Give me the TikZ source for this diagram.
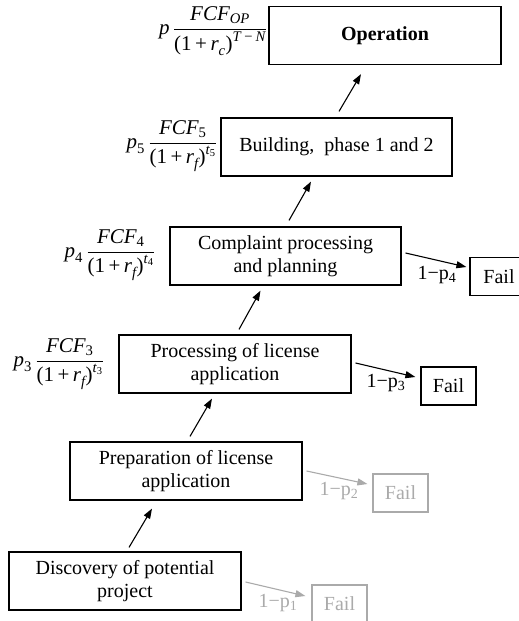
\documentclass[tikz,border=0pt]{standalone}
\usepackage{amsmath}
\usepackage{fontspec}
\setmainfont{Liberation Serif}
\usetikzlibrary{arrows.meta,calc}
\definecolor{faded}{RGB}{170,170,170}
\begin{document}
\begin{tikzpicture}[x=1pt,y=-1pt,
  box/.style={draw,line width=1.2pt,minimum width=232pt,minimum height=58pt,align=center,inner sep=2pt,font=\fontsize{20}{23}\selectfont},
  failbox/.style={draw,line width=1.2pt,minimum width=55pt,minimum height=38pt,inner sep=0pt,font=\fontsize{20}{23}\selectfont},
  arr/.style={line width=1.1pt,-{Triangle[length=10pt,width=7pt]}},
  plab/.style={font=\fontsize{20}{23}\selectfont,inner sep=0pt},
  fml/.style={font=\fontsize{21}{24}\selectfont,inner sep=0pt,anchor=base east},
  greyed/.style={draw=faded,text=faded}
]
\useasboundingbox (0,0) rectangle (519,621);
% boxes
\node[box] (op) at (385,35.5) {\textbf{Operation}};
\node[box,minimum width=231pt] (bld) at (336.5,147) {Building,\ \ phase 1 and 2};
\node[box,minimum width=231pt] (cmp) at (285.5,256) {Complaint processing\\and planning};
\node[failbox,minimum width=58pt] (f4) at (499,276.5) {Fail};
\node[box] (prc) at (235,364) {Processing of license\\application};
\node[failbox] (f3) at (448.5,386) {Fail};
\node[box] (prp) at (186,471) {Preparation of license\\application};
\node[failbox,greyed] (f2) at (400.5,493) {Fail};
\node[box] (dsc) at (125,581) {Discovery of potential\\project};
\node[failbox,greyed] (f1) at (339.5,604) {Fail};
% success arrows
\draw[arr] ($(dsc.north)+(4,-4)$) -- ($(prp.south)+(-34,8)$);
\draw[arr] ($(prp.north)+(4,-5)$) -- ($(prc.south)+(-23,5)$);
\draw[arr] ($(prc.north)+(4,-5)$) -- ($(cmp.south)+(-25,5)$);
\draw[arr] ($(cmp.north)+(3.5,-6)$) -- ($(bld.south)+(-25.5,5)$);
\draw[arr] ($(bld.north)+(2.5,-6)$) -- ($(op.south)+(-24,9)$);
% fail arrows
\draw[arr] ($(cmp.east)+(4,-3)$) -- ($(f4.west)+(-3,-9.5)$);
\draw[arr] ($(prc.east)+(4,-1)$) -- ($(f3.west)+(-5,-9)$);
\draw[arr,faded] ($(prp.east)+(4,0)$) -- ($(f2.west)+(-5,-9)$);
\draw[arr,faded] ($(dsc.east)+(4,1)$) -- ($(f1.west)+(-6,-8)$);
% fail labels
\node[plab] (l4) at (437,275) {1−p\textsubscript{4}};
\node[plab] (l3) at (386,383) {1−p\textsubscript{3}};
\node[plab,text=faded] (l2) at (339,491) {1−p\textsubscript{2}};
\node[plab,text=faded] (l1) at (278,603) {1−p\textsubscript{1}};
% formulas
\node[fml] (e6) at ($(op.west)+(-1,-1.25)$) {$\text{\itshape p}\,\displaystyle\frac{\text{\itshape FCF}_{\text{\itshape OP}}}{\text{(1\,+\,\itshape r}_{\text{\itshape c}}\text{)}^{\text{\itshape T\,−\,N}}}$};
\node[fml] (e5) at ($(bld.west)+(-3,1.25)$) {$\text{\itshape p}_{\text{5}}\,\displaystyle\frac{\text{\itshape FCF}_{\text{5}}}{\text{(1\,+\,\itshape r}_{\text{\itshape f}}\text{)}^{\text{\itshape t}_{\text{5}}}}$};
\node[fml] (e4) at ($(cmp.west)+(-14,1.25)$) {$\text{\itshape p}_{\text{4}}\,\displaystyle\frac{\text{\itshape FCF}_{\text{4}}}{\text{(1\,+\,\itshape r}_{\text{\itshape f}}\text{)}^{\text{\itshape t}_{\text{4}}}}$};
\node[fml] (e3) at ($(prc.west)+(-14,2.25)$) {$\text{\itshape p}_{\text{3}}\,\displaystyle\frac{\text{\itshape FCF}_{\text{3}}}{\text{(1\,+\,\itshape r}_{\text{\itshape f}}\text{)}^{\text{\itshape t}_{\text{3}}}}$};
\end{tikzpicture}
\end{document}
